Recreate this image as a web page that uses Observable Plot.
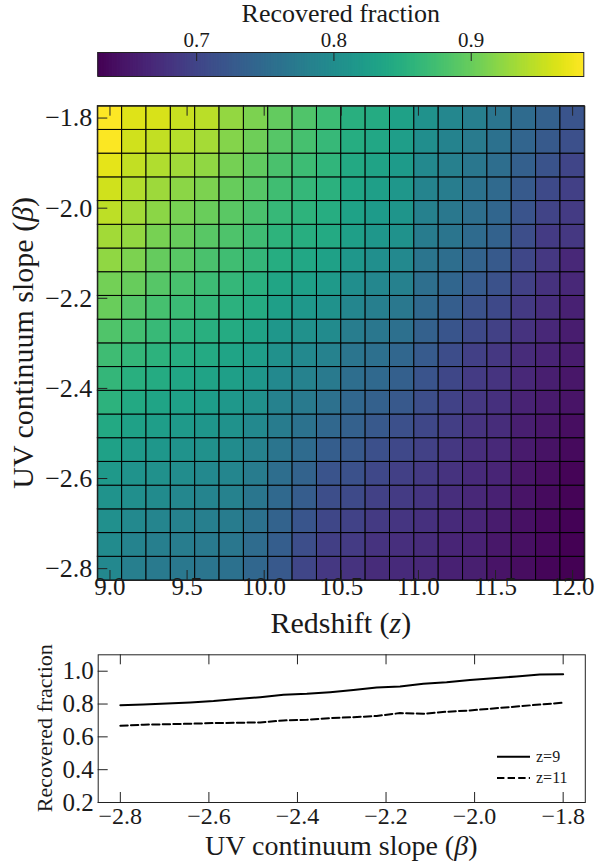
<!DOCTYPE html>
<html><head><meta charset="utf-8">
<script src="https://cdn.jsdelivr.net/npm/d3@7"></script>
<script src="https://cdn.jsdelivr.net/npm/@observablehq/plot@0.6"></script>
<style>
html,body{margin:0;padding:0;background:#fff;}
#wrap{position:relative;width:595px;height:865px;overflow:hidden;}
#wrap svg{position:absolute;left:0;}
</style></head><body><div id="wrap"></div>
<script>
// ---- data ----
const zValues = [9.0, 9.1579, 9.3158, 9.4737, 9.6316, 9.7895, 9.9474, 10.1053, 10.2632, 10.4211,
  10.5789, 10.7368, 10.8947, 11.0526, 11.2105, 11.3684, 11.5263, 11.6842, 11.8421, 12.0];
const betaValues = [-2.8, -2.7474, -2.6947, -2.6421, -2.5895, -2.5368, -2.4842, -2.4316, -2.3789, -2.3263,
  -2.2737, -2.2211, -2.1684, -2.1158, -2.0632, -2.0105, -1.9579, -1.9053, -1.8526, -1.8];
// one row per beta value (ascending), one entry per redshift
const fractionGrid = [
  [0.793,0.780,0.772,0.770,0.765,0.760,0.745,0.726,0.702,0.686,0.680,0.672,0.670,0.667,0.660,0.658,0.646,0.640,0.633,0.628],
  [0.797,0.787,0.780,0.777,0.772,0.768,0.752,0.733,0.712,0.694,0.689,0.680,0.676,0.672,0.665,0.661,0.651,0.642,0.635,0.629],
  [0.804,0.795,0.789,0.785,0.780,0.775,0.760,0.740,0.721,0.703,0.698,0.688,0.682,0.677,0.670,0.664,0.655,0.644,0.636,0.630],
  [0.810,0.803,0.797,0.792,0.788,0.783,0.767,0.748,0.731,0.711,0.707,0.697,0.689,0.683,0.675,0.667,0.660,0.646,0.638,0.631],
  [0.818,0.810,0.805,0.800,0.795,0.790,0.775,0.755,0.740,0.720,0.716,0.705,0.695,0.688,0.680,0.670,0.665,0.648,0.640,0.632],
  [0.830,0.820,0.815,0.810,0.805,0.799,0.785,0.765,0.751,0.733,0.726,0.715,0.705,0.696,0.686,0.675,0.669,0.653,0.645,0.637],
  [0.842,0.831,0.825,0.819,0.814,0.808,0.795,0.775,0.762,0.746,0.736,0.726,0.715,0.704,0.692,0.680,0.673,0.658,0.649,0.641],
  [0.856,0.841,0.835,0.829,0.824,0.817,0.805,0.785,0.773,0.759,0.745,0.736,0.725,0.712,0.698,0.685,0.677,0.662,0.654,0.646],
  [0.862,0.852,0.845,0.838,0.833,0.826,0.815,0.795,0.784,0.772,0.755,0.747,0.735,0.720,0.704,0.690,0.681,0.667,0.658,0.650],
  [0.872,0.862,0.855,0.848,0.843,0.835,0.825,0.805,0.795,0.785,0.765,0.757,0.745,0.728,0.710,0.695,0.685,0.672,0.663,0.655],
  [0.885,0.875,0.866,0.858,0.852,0.845,0.834,0.815,0.806,0.797,0.777,0.769,0.757,0.737,0.721,0.706,0.696,0.680,0.668,0.657],
  [0.901,0.887,0.877,0.869,0.862,0.854,0.844,0.826,0.817,0.808,0.790,0.780,0.770,0.747,0.732,0.717,0.706,0.688,0.674,0.661],
  [0.907,0.900,0.888,0.879,0.871,0.864,0.853,0.836,0.828,0.820,0.802,0.792,0.782,0.756,0.743,0.728,0.717,0.696,0.679,0.667],
  [0.923,0.912,0.899,0.890,0.881,0.873,0.863,0.847,0.839,0.831,0.815,0.803,0.795,0.766,0.754,0.739,0.727,0.704,0.685,0.668],
  [0.933,0.925,0.910,0.900,0.890,0.883,0.872,0.857,0.850,0.843,0.827,0.815,0.807,0.775,0.765,0.750,0.738,0.712,0.690,0.686],
  [0.947,0.933,0.920,0.910,0.901,0.891,0.880,0.865,0.857,0.848,0.832,0.821,0.812,0.782,0.770,0.756,0.743,0.720,0.699,0.690],
  [0.957,0.941,0.930,0.921,0.912,0.900,0.888,0.873,0.864,0.854,0.837,0.827,0.816,0.788,0.776,0.762,0.749,0.727,0.708,0.695],
  [0.968,0.949,0.940,0.931,0.923,0.908,0.896,0.881,0.871,0.859,0.842,0.833,0.821,0.795,0.781,0.768,0.754,0.735,0.718,0.700],
  [0.980,0.957,0.950,0.942,0.934,0.917,0.904,0.889,0.878,0.865,0.847,0.839,0.825,0.801,0.787,0.774,0.760,0.742,0.727,0.715],
  [0.982,0.965,0.960,0.952,0.945,0.925,0.912,0.897,0.885,0.870,0.852,0.845,0.830,0.808,0.792,0.780,0.765,0.750,0.736,0.720]
];
const fracZ9  = [0.793,0.797,0.804,0.810,0.818,0.830,0.842,0.856,0.862,0.872,0.885,0.901,0.907,0.923,0.933,0.947,0.957,0.968,0.980,0.982];
const fracZ11 = [0.668,0.674,0.677,0.680,0.684,0.686,0.688,0.700,0.704,0.714,0.720,0.727,0.745,0.741,0.753,0.761,0.773,0.785,0.797,0.808];
const seriesNames = ["z=9", "z=11"];
const zTicks = [9.0, 9.5, 10.0, 10.5, 11.0, 11.5, 12.0];
const betaTicks = [-2.8, -2.6, -2.4, -2.2, -2.0, -1.8];
const fracTicks = [0.2, 0.4, 0.6, 0.8, 1.0];
const colorbarTicks = [0.7, 0.8, 0.9];
const colorbarTitle = "Recovered fraction";

// ---- setup ----
const W = 595;
const FONT = "Liberation Serif";
const fmt = d => (d < 0 ? "\u2212" : "") + Math.abs(d).toFixed(1);
const wrap = document.getElementById("wrap");

const cells = [];
betaValues.forEach((b, i) => zValues.forEach((z, j) => cells.push({z, beta: b, v: fractionGrid[i][j]})));
const dz = (zValues[zValues.length - 1] - zValues[0]) / (zValues.length - 1);
const db = (betaValues[betaValues.length - 1] - betaValues[0]) / (betaValues.length - 1);
const [vmin, vmax] = d3.extent(cells, d => d.v);
const colorOpt = {type: "linear", scheme: "viridis", domain: [vmin, vmax]};
const baseStyle = {background: "transparent", fontFamily: FONT, color: "black", overflow: "visible"};
const txt = {fontFamily: FONT, fill: "#1a1a1a"};

function place(svg, top) { svg.style.top = top + "px"; wrap.appendChild(svg); return svg; }
function addTitle(svg, x, y, rotate, size, parts) {
  const t = d3.select(svg).append("text")
    .attr("transform", `translate(${x},${y})` + (rotate ? " rotate(-90)" : ""))
    .attr("text-anchor", "middle").attr("font-size", size).attr("font-family", FONT).attr("fill", "#1a1a1a");
  parts.forEach(([s, it]) => t.append("tspan").attr("font-style", it ? "italic" : null).text(s));
}

// ---- colorbar ----
const nSteps = 300;
const step = (vmax - vmin) / nSteps;
const cbSteps = d3.range(nSteps).map(k => vmin + step * k);
const cbH = 90, cbTop = 52, cbBot = 76;
const cb = Plot.plot({
  width: W, height: cbH, marginTop: cbTop, marginBottom: cbH - cbBot, marginLeft: 97.3, marginRight: W - 583.3,
  x: {domain: [vmin, vmax], axis: null}, y: {axis: null},
  color: colorOpt,
  style: baseStyle,
  marks: [
    Plot.rect(cbSteps, {x1: d => d, x2: d => Math.min(vmax, d + step * 2.5), fill: d => d + step / 2}),
    Plot.tickX(colorbarTicks, {x: d => d, insetBottom: (cbBot - cbTop) - 9, stroke: "#222"}),
    Plot.frame({stroke: "#222"}),
    Plot.text(colorbarTicks, {x: d => d, frameAnchor: "top", dy: -5.5, lineAnchor: "bottom", text: d => d.toFixed(1), fontSize: 21, ...txt}),
    Plot.text([colorbarTitle], {frameAnchor: "top", dy: -30.5, lineAnchor: "bottom", text: d => d, fontSize: 26, ...txt})
  ]
});
place(cb, 0);

// ---- heatmap ----
const hmTopAbs = 90, hmH = 560;
const fTop = 105.7, fBot = 580, fL = 97.3, fR = 584.3;
const fw = fR - fL, fh = fBot - fTop;
const hm = Plot.plot({
  width: W, height: hmH, marginTop: fTop - hmTopAbs, marginBottom: hmTopAbs + hmH - fBot, marginLeft: fL, marginRight: W - fR,
  x: {domain: [zValues[0] - dz / 2, zValues[zValues.length - 1] + dz / 2], axis: null},
  y: {domain: [betaValues[0] - db / 2, betaValues[betaValues.length - 1] + db / 2], axis: null},
  color: colorOpt,
  style: baseStyle,
  marks: [
    Plot.rect(cells, {x1: d => d.z - dz / 2, x2: d => d.z + dz / 2, y1: d => d.beta - db / 2, y2: d => d.beta + db / 2,
      fill: "v", stroke: "black", strokeWidth: 1}),
    Plot.frame({stroke: "#222"}),
    Plot.tickX(zTicks, {x: d => d, insetBottom: fh - 10, stroke: "#222"}),
    Plot.tickX(zTicks, {x: d => d, insetTop: fh - 10, stroke: "#222"}),
    Plot.tickY(betaTicks, {y: d => d, insetRight: fw - 10, stroke: "#222"}),
    Plot.text(zTicks, {x: d => d, frameAnchor: "bottom", dy: 14.5, lineAnchor: "bottom", text: fmt, fontSize: 25, ...txt}),
    Plot.text(betaTicks, {y: d => d, frameAnchor: "left", dx: -5.5, textAnchor: "end", lineAnchor: "middle", text: fmt, fontSize: 26, ...txt})
  ]
});
place(hm, hmTopAbs);
addTitle(hm, (fL + fR) / 2, 633 - hmTopAbs, false, 30, [["Redshift ("], ["z", true], [")"]]);
addTitle(hm, 33, (fTop + fBot) / 2 - hmTopAbs, true, 30, [["UV continuum slope ("], ["\u03b2", true], [")"]]);

// ---- bottom line plot ----
const lpTopAbs = 650, lpH = 215;
const gTop = 654.3, gBot = 802, gL = 97.7, gR = 584.8;
const gw = gR - gL, gh = gBot - gTop;
const z9 = betaValues.map((b, i) => ({beta: b, v: fracZ9[i]}));
const z11 = betaValues.map((b, i) => ({beta: b, v: fracZ11[i]}));
const lp = Plot.plot({
  width: W, height: lpH, marginTop: gTop - lpTopAbs, marginBottom: lpTopAbs + lpH - gBot, marginLeft: gL, marginRight: W - gR,
  x: {domain: [-2.85, -1.75], axis: null},
  y: {domain: [0.2, 1.1], axis: null},
  style: baseStyle,
  marks: [
    Plot.frame({stroke: "#222"}),
    Plot.tickX(betaTicks, {x: d => d, insetBottom: gh - 10, stroke: "#222"}),
    Plot.tickX(betaTicks, {x: d => d, insetTop: gh - 10, stroke: "#222"}),
    Plot.tickY(fracTicks, {y: d => d, insetRight: gw - 10, stroke: "#222"}),
    Plot.line(z9, {x: "beta", y: "v", stroke: "black", strokeWidth: 2}),
    Plot.line(z11, {x: "beta", y: "v", stroke: "black", strokeWidth: 2, strokeDasharray: "7.4,3.2"}),
    Plot.text(betaTicks, {x: d => d, frameAnchor: "bottom", dy: 21, lineAnchor: "bottom", text: fmt, fontSize: 24, ...txt}),
    Plot.text(fracTicks, {y: d => d, frameAnchor: "left", dx: -4.5, textAnchor: "end", lineAnchor: "middle", text: fmt, fontSize: 25, ...txt})
  ]
});
place(lp, lpTopAbs);
addTitle(lp, (gL + gR) / 2, 855 - lpTopAbs, false, 28, [["UV continuum slope ("], ["\u03b2", true], [")"]]);
addTitle(lp, 52, (gTop + gBot) / 2 - lpTopAbs, true, 22, [["Recovered fraction"]]);

// legend (lower right inside the frame)
const lg = d3.select(lp).append("g").attr("font-family", FONT).attr("font-size", 16).attr("text-anchor", "start");
[[106.7, null], [128, "7.4,3.2"]].forEach(([ly, dash], k) => {
  lg.append("line").attr("x1", 497).attr("x2", 530).attr("y1", ly).attr("y2", ly)
    .attr("stroke", "black").attr("stroke-width", 2).attr("stroke-dasharray", dash);
  lg.append("text").attr("x", 536).attr("y", ly).attr("dy", "0.32em").attr("fill", "#1a1a1a").text(seriesNames[k]);
});
</script>
</body></html>
